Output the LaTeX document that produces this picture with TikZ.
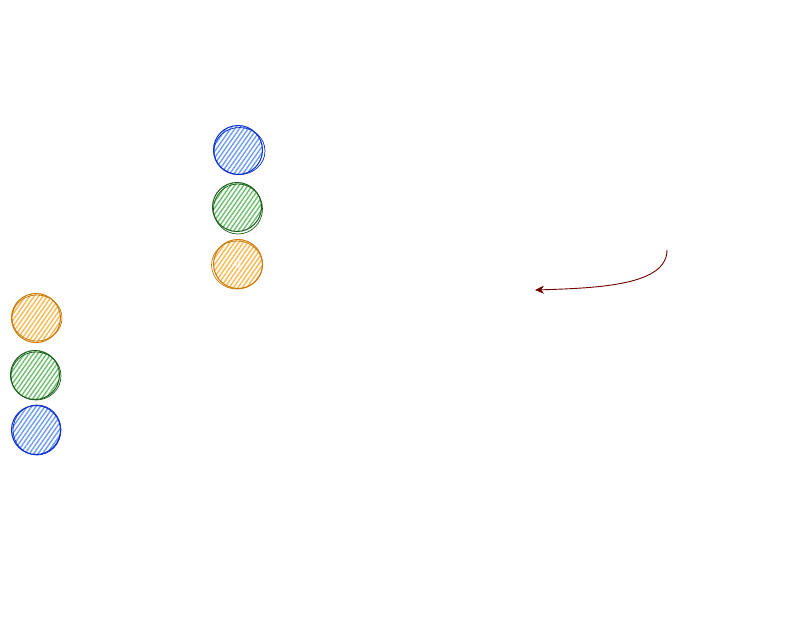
\documentclass[tikz,border=0pt]{standalone}
\usetikzlibrary{patterns.meta,arrows.meta}
\definecolor{bstroke}{HTML}{0A2ECC}
\definecolor{bfill}{HTML}{6E9CF2}
\definecolor{gstroke}{HTML}{1B5E1B}
\definecolor{gfill}{HTML}{6DBE6D}
\definecolor{ostroke}{HTML}{C97A0A}
\definecolor{ofill}{HTML}{F9B950}
\definecolor{arrowred}{HTML}{6E0000}
\tikzset{
  dot/.style={circle, minimum size=49pt, inner sep=0pt, draw=#1stroke, line width=1pt,
    pattern={Lines[angle=55, distance=3.6pt, line width=1.4pt]}, pattern color=#1fill},
  sketch/.style={draw=#1stroke, line width=0.7pt},
  link/.style={draw=arrowred, line width=0.9pt, -{Stealth[length=9pt,width=8pt]}}
}
\begin{document}
\begin{tikzpicture}[x=1pt,y=-1pt]
\useasboundingbox (0,0) rectangle (787,640);
% upper column
\node[dot=b] (t1) at (238,150) {};
\draw[sketch=b] (239.5,151) circle[x radius=25.5, y radius=23.5];
\node[dot=g] (t2) at (237,207) {};
\draw[sketch=g] (238,209) circle[x radius=24.5, y radius=25];
\node[dot=o] (t3) at (238,264) {};
\draw[sketch=o] (237,265) circle[x radius=25.5, y radius=24];
\node[text=white, font=\sffamily\Large] (t3l) at (t3) {4};
% lower column
\node[dot=o] (l1) at (36,318) {};
\draw[sketch=o] (37,318) circle[x radius=25, y radius=23];
\node[dot=g] (l2) at (35,375) {};
\draw[sketch=g] (36,376) circle[x radius=25, y radius=24];
\node[dot=b] (l3) at (36,430) {};
\draw[sketch=b] (37,430) circle[x radius=24, y radius=25];
% arrow
\coordinate (as) at (667,250);
\coordinate (ae) at (535,290);
\draw[link] (as) .. controls (667,285) and (600,288) .. (ae);
\end{tikzpicture}
\end{document}
